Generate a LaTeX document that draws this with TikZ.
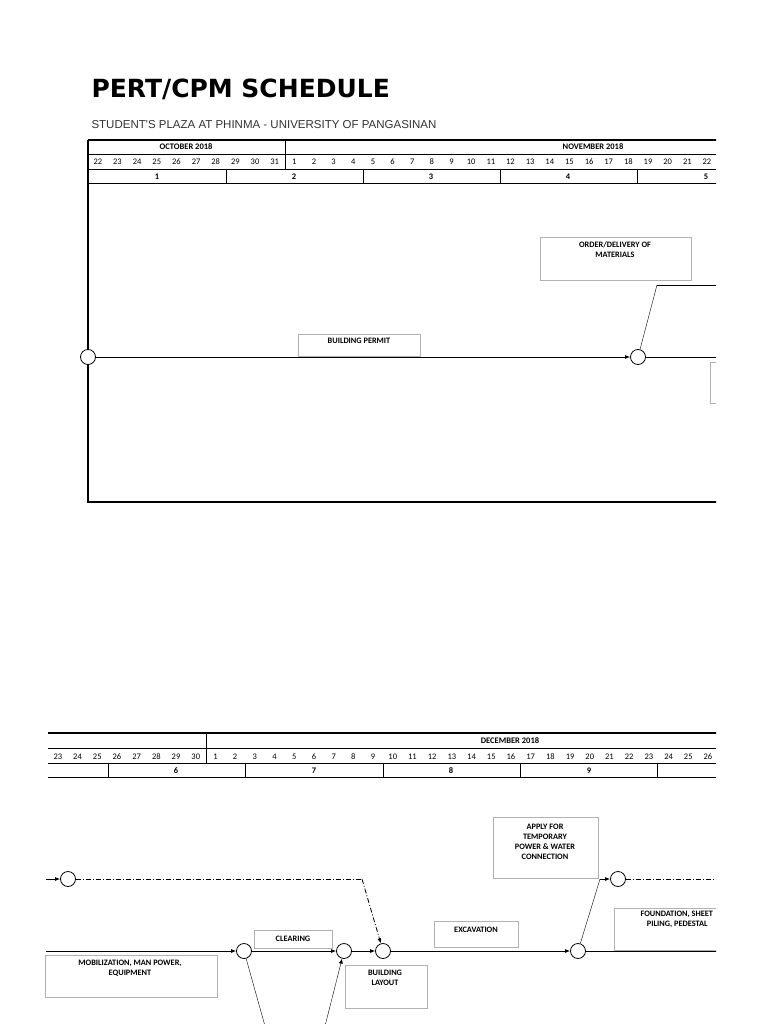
\documentclass[tikz,border=0pt]{standalone}
\usepackage{fontspec}
\setmainfont{Carlito}
\newfontfamily\titlefont{DejaVu Sans}
\newfontfamily\subfont{Liberation Sans}
\usetikzlibrary{arrows.meta}
\begin{document}
\begin{tikzpicture}[x=1pt,y=-1pt,
  ev/.style={circle,draw,thick,fill=white,minimum size=15pt,inner sep=0pt},
  lbl/.style={draw=black!30,anchor=north west,inner sep=0pt},
  tx/.style={font=\bfseries\fontsize{8.3}{10}\selectfont,align=center},
  cell/.style={font=\fontsize{8.5}{10}\selectfont,anchor=base},
  bcell/.style={font=\bfseries\fontsize{8.5}{10}\selectfont,anchor=base},
  act/.style={thick,-{Latex[length=5pt,width=4pt]}},
  dd/.style={thick,dash pattern=on 5pt off 2pt on 1pt off 2pt},
  grid/.style={line width=0.6pt}]
\useasboundingbox (0,0) rectangle (768,1024);
\node[anchor=west,font=\titlefont\bfseries\fontsize{25}{27}\selectfont] (title) at (88,89) {PERT/CPM SCHEDULE};
\node[anchor=west,font=\subfont\fontsize{11.5}{13}\selectfont,text=black!80] (sub) at (88,125) {STUDENT'S PLAZA AT PHINMA - UNIVERSITY OF PANGASINAN};
\clip (0,0) rectangle (716,1024);
% ---- top table
\draw[line width=1.4pt] (88,140) -- (720,140);
\draw[grid] (88,154) -- (720,154) (88,169) -- (720,169);
\draw[line width=1pt] (88,184) -- (720,184);
\draw[line width=1.2pt] (88,140) -- (88,502) -- (720,502);
\draw[grid] (285,140) -- (285,169);
\foreach \x in {226,363,500,637} \draw[grid] (\x,169) -- (\x,184);
\node[bcell] (oct) at (186,150) {OCTOBER 2018};
\node[bcell] (nov) at (593,150) {NOVEMBER 2018};
\foreach \d [count=\i from 0] in {22,...,31,1,2,...,22}
  \node[cell] (td\i) at ({88+19.65*(\i+0.5)},165) {\d};
\foreach \w/\x in {1/157,2/294,3/431,4/568,5/706}
  \node[bcell] (tw\w) at (\x,180) {\w};
% top network
\node[ev] (a) at (88,357) {};
\node[ev] (b) at (638,357) {};
\coordinate (bend) at (657,285);
\coordinate (re1) at (720,285);
\coordinate (re2) at (720,357);
\draw[act] (a) -- (b);
\draw[thick] (b) -- (re2);
\draw (b) -- (bend);
\draw[thick] (bend) -- (re1);
\node[lbl,minimum width=122pt,minimum height=22pt] (bp) at (298,334) {};
\node[tx] at (359,341) {BUILDING PERMIT};
\node[lbl,minimum width=151pt,minimum height=43pt] (od) at (540,237) {};
\node[tx] at (615,250) {ORDER/DELIVERY OF\\MATERIALS};
\node[lbl,minimum width=20pt,minimum height=41pt] (cut) at (710,362) {};
% ---- bottom table
\draw[line width=1.4pt] (48,733) -- (720,733);
\draw[grid] (48,748) -- (720,748) (48,763) -- (720,763);
\draw[line width=1pt] (48,777) -- (720,777);
\draw[grid] (206,733) -- (206,763);
\foreach \x in {108,245,383,520,657} \draw[grid] (\x,763) -- (\x,777);
\node[bcell] (dec) at (510,743.5) {DECEMBER 2018};
\foreach \d [count=\i from 0] in {23,...,30,1,2,...,26}
  \node[cell] (bd\i) at ({48+19.7*(\i+0.5)},759) {\d};
\foreach \w/\x in {6/176,7/314,8/451,9/589}
  \node[bcell] (bw\w) at (\x,773.5) {\w};
% bottom network
\coordinate (l1) at (46,879);
\coordinate (l2) at (46,951);
\node[ev] (c) at (68,879) {};
\node[ev] (d) at (244,951) {};
\node[ev] (e) at (344,951) {};
\node[ev] (f) at (383,951) {};
\node[ev] (g) at (578,951) {};
\node[ev] (h) at (618,879) {};
\coordinate (dk) at (362,879);
\coordinate (gk) at (600,879);
\coordinate (r1) at (720,879);
\coordinate (r2) at (720,951);
\coordinate (dl) at (265,1026);
\coordinate (el) at (325,1026);
\draw[act] (l1) -- (c);
\draw[dd] (c) -- (dk);
\draw[dd,-{Latex[length=5pt,width=4pt]}] (dk) -- (f);
\draw[act] (l2) -- (d);
\draw[act] (d) -- (e);
\draw[act] (e) -- (f);
\draw[act] (f) -- (g);
\draw[thick] (g) -- (r2);
\draw (g) -- (gk);
\draw[act] (gk) -- (h);
\draw[dd] (h) -- (r1);
\draw (d) -- (dl);
\draw[-{Latex[length=5pt,width=4pt]}] (el) -- (e);
\node[lbl,minimum width=78pt,minimum height=18pt] (cl) at (254,930) {};
\node[tx] at (293,939) {CLEARING};
\node[lbl,minimum width=172pt,minimum height=42pt] (mob) at (45,955) {};
\node[tx] at (130,968) {MOBILIZATION, MAN POWER,\\EQUIPMENT};
\node[lbl,minimum width=82pt,minimum height=43pt] (bl) at (345,965) {};
\node[tx] at (385,978) {BUILDING\\LAYOUT};
\node[lbl,minimum width=84pt,minimum height=26pt] (ex) at (434,921) {};
\node[tx] at (476,930) {EXCAVATION};
\node[lbl,minimum width=105pt,minimum height=61pt] (ap) at (493,817) {};
\node[tx] at (545,842) {APPLY FOR\\TEMPORARY\\POWER \& WATER\\CONNECTION};
\node[lbl,minimum width=110pt,minimum height=42pt] (fo) at (614,908) {};
\node[tx,anchor=north west] at (637,908) {FOUNDATION, SHEET\\\hspace*{1pt}PILING, PEDESTAL};
\end{tikzpicture}
\end{document}
